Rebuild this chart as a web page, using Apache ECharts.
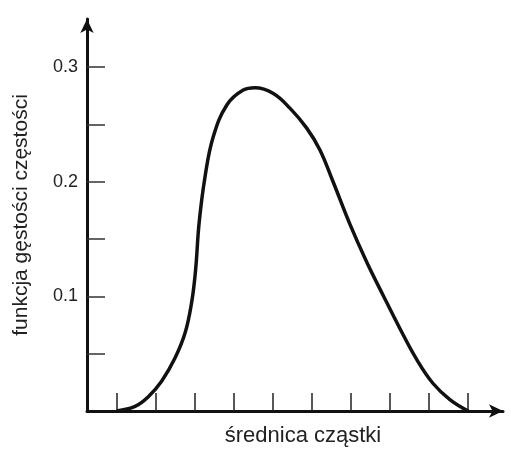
<!DOCTYPE html>
<html>
<head>
<meta charset="utf-8">
<style>
  html, body { margin: 0; padding: 0; background: #fff; }
  #main { width: 511px; height: 452px; }
</style>
<script src="https://cdn.jsdelivr.net/npm/echarts@6/dist/echarts.min.js"></script>
</head>
<body>
<div id="main"></div>
<script>
// particle diameter in tick units (ticks at 1..10), density values
var xValues = [1.00, 1.47, 1.81, 2.15, 2.49, 2.75, 2.92, 3.02, 3.11, 3.26, 3.47, 3.82, 4.24, 4.54, 5.01, 5.44, 5.86, 6.20, 6.54, 6.97, 7.40, 7.82, 8.25, 8.68, 9.10, 9.53, 10.00]
var yValues = [0.000, 0.004, 0.0125, 0.026, 0.046, 0.068, 0.095, 0.123, 0.164, 0.204, 0.239, 0.267, 0.280, 0.282, 0.277, 0.264, 0.247, 0.228, 0.200, 0.163, 0.130, 0.101, 0.072, 0.045, 0.024, 0.010, 0.000]
var xTicks = [1, 2, 3, 4, 5, 6, 7, 8, 9, 10]
var yTicks = [0.05, 0.1, 0.15, 0.2, 0.25, 0.3]
var yLabels = [0.1, 0.2, 0.3]

var chart = echarts.init(document.getElementById('main'))
var font = '"Liberation Sans", Arial, sans-serif'

var option = {
  animation: false,
  grid: {
    left: 87,
    right: 8,
    top: 19,
    bottom: 40,
  },
  xAxis: {
    type: 'value',
    min: 0.24,
    max: 10.89,
    name: 'średnica cząstki',
    nameLocation: 'middle',
    nameGap: 14,
    nameTextStyle: {
      fontFamily: font,
      fontSize: 22,
      color: '#222',
      padding: [0, 0, 0, 16],
    },
    axisLine: {
      lineStyle: { color: '#111', width: 3 },
      symbol: ['none', 'arrow'],
      symbolSize: [10, 14],
    },
    axisTick: {
      show: true,
      inside: true,
      length: 18,
      customValues: xTicks,
      lineStyle: { color: '#222', width: 1.5 },
    },
    axisLabel: { show: false },
    splitLine: { show: false },
  },
  yAxis: {
    type: 'value',
    min: 0,
    max: 0.342,
    name: 'funkcja gęstości częstości',
    nameLocation: 'middle',
    nameGap: 55,
    nameTextStyle: {
      fontFamily: font,
      fontSize: 21,
      color: '#222',
    },
    axisLine: {
      show: true,
      lineStyle: { color: '#111', width: 3 },
      symbol: ['none', 'arrow'],
      symbolSize: [10, 14],
    },
    axisTick: {
      show: true,
      inside: true,
      length: 18,
      customValues: yTicks,
      lineStyle: { color: '#333', width: 1.5 },
    },
    axisLabel: {
      customValues: yLabels,
      margin: 9,
      fontFamily: font,
      fontSize: 18,
      color: '#222',
      formatter: function (v) { return v.toFixed(1) },
    },
    splitLine: { show: false },
  },
  series: [
    {
      type: 'line',
      data: xValues.map(function (x, i) { return [x, yValues[i]] }),
      smooth: 0.4,
      showSymbol: false,
      lineStyle: { color: '#111', width: 3.5 },
    },
  ],
}

chart.setOption(option)
</script>
</body>
</html>
